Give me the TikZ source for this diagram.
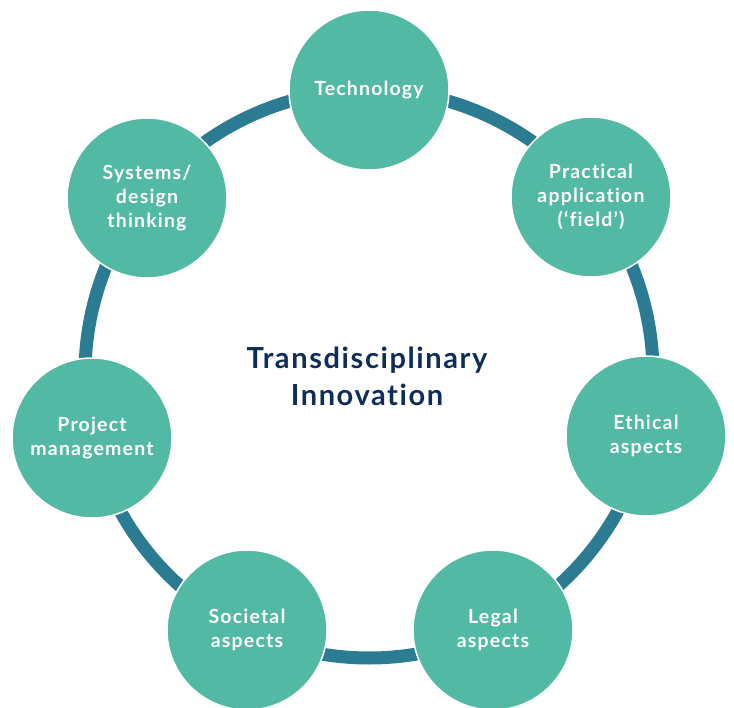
\documentclass[tikz,border=0pt]{standalone}
\usepackage{fontspec}
\setmainfont{Lato}
\newfontfamily\bubfont[LetterSpace=6,Ligatures=NoCommon]{Lato}
\newfontfamily\titlefont[LetterSpace=5.5,Ligatures=NoCommon]{Lato}
\definecolor{ringcol}{HTML}{2B7B93}
\definecolor{bubcol}{HTML}{52B9A5}
\definecolor{navy}{HTML}{0F2D5C}
\begin{document}
\begin{tikzpicture}[x=1pt,y=-1pt,
  bubble/.style={circle,fill=bubcol,draw=white,line width=1.5pt,minimum size=160pt,inner sep=0pt,
    text=white,font=\bubfont\bfseries\fontsize{19.5}{24}\selectfont,align=center},
  title/.style={text=navy,font=\titlefont\bfseries\fontsize{29}{37}\selectfont,align=center}]
\useasboundingbox (0,0) rectangle (734,708);
\coordinate (c) at (369,374);
\draw[ringcol,line width=13pt] (c) circle (284);
\node[bubble] (tech) at (369,90) {Technology};
\node[bubble] (prac) at (591,197) {Practical\\application\\(‘field’)};
\node[bubble] (eth) at (646,436) {Ethical\\aspects};
\node[bubble] (legal) at (493,630) {Legal\\aspects};
\node[bubble] (soc) at (247,630) {Societal\\aspects};
\node[bubble] (proj) at (92,438) {Project\\management};
\node[bubble] (sys) at (147,198) {Systems/\\design\\thinking};
\node[title] (t) at (367,376) {Transdisciplinary\\Innovation};
\end{tikzpicture}
\end{document}
